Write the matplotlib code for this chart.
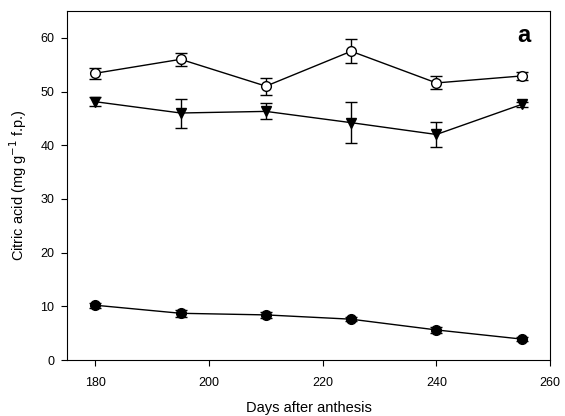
import matplotlib
matplotlib.use("Agg")
import matplotlib.pyplot as plt

plt.rcParams['font.family'] = ['Liberation Sans', 'DejaVu Sans']

# days after anthesis
days = [180, 195, 210, 225, 240, 255]

# open circles
open_mean = [53.4, 56.0, 51.0, 57.5, 51.6, 52.9]
open_err = [1.0, 1.2, 1.6, 2.2, 1.2, 0.8]

# filled triangles
tri_mean = [48.1, 46.0, 46.3, 44.2, 42.0, 47.6]
tri_err = [0.8, 2.7, 1.5, 3.8, 2.3, 0.5]

# filled circles
fill_mean = [10.2, 8.7, 8.4, 7.6, 5.6, 3.9]
fill_err = [0.5, 0.6, 0.5, 0.4, 0.5, 0.4]

fig = plt.figure(figsize=(5.65, 4.16), dpi=100)
ax = fig.add_axes([0.1186, 0.1346, 0.855, 0.839])

common = dict(color='black', lw=1, capsize=4, capthick=1, elinewidth=1, ms=7)
ax.errorbar(days, open_mean, yerr=open_err, fmt='-o', mfc='white', mec='black', **common)
ax.errorbar(days, tri_mean, yerr=tri_err, fmt='-v', mfc='black', mec='black', **common)
ax.errorbar(days, fill_mean, yerr=fill_err, fmt='-o', mfc='black', mec='black', **common)

ax.set_xlim(175, 260)
ax.set_ylim(0, 65)
ax.set_xticks([180, 200, 220, 240, 260])
ax.set_yticks([0, 10, 20, 30, 40, 50, 60])
ax.tick_params(direction='out', length=4, labelsize=9, top=False, right=False)
ax.tick_params(axis='x', pad=8)
ax.tick_params(axis='y', pad=5)

ax.set_xlabel("Days after anthesis", fontsize=10.5, labelpad=9)
ax.set_ylabel("Citric acid (mg g$^{-1}$ f.p.)", fontsize=10.5, labelpad=8)
ax.text(0.945, 0.93, "a", transform=ax.transAxes, fontsize=17, fontweight='bold',
        ha='center', va='center')

fig.savefig("out.png", dpi=100)
